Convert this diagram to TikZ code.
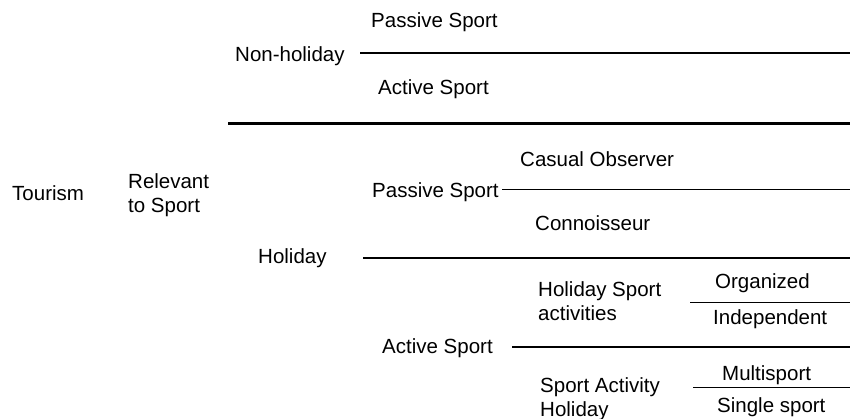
\documentclass[tikz,border=0pt]{standalone}
\usepackage{fontspec}
\setmainfont{Liberation Sans}
\begin{document}
\begin{tikzpicture}[x=1pt,y=-1pt,
  lbl/.style={anchor=base west,inner sep=0pt,font=\fontsize{20.5}{24}\selectfont,align=left},
  heavy/.style={line width=3pt},
  medium/.style={line width=2pt},
  light/.style={line width=1pt}]
\useasboundingbox[fill=white] (0,0) rectangle (850,419);
% texts
\node[lbl] (ps1) at (371,28) {Passive Sport};
\node[lbl] (nonhol) at (235,62) {Non-holiday};
\node[lbl] (as1) at (378,95) {Active Sport};
\node[lbl] (tour) at (12,201) {Tourism};
\node[lbl] (rel) at (128,213) {Relevant\\to Sport};
\node[lbl] (cas) at (520,167) {Casual Observer};
\node[lbl] (ps2) at (372,198) {Passive Sport};
\node[lbl] (con) at (535,231) {Connoisseur};
\node[lbl] (hol) at (258,264) {Holiday};
\node[lbl] (hsa) at (538,320) {Holiday Sport\\activities};
\node[lbl] (org) at (715,288) {Organized};
\node[lbl] (ind) at (713,324) {Independent};
\node[lbl] (as2) at (382,353) {Active Sport};
\node[lbl] (mul) at (722,380) {Multisport};
\node[lbl] (sah) at (540,416) {Sport Activity\\Holiday};
\node[lbl] (sin) at (717,412) {Single sport};
% line ends
\coordinate (nhS) at (360,53);  \coordinate (nhE) at (850,53);
\coordinate (sepS) at (228,124); \coordinate (sepE) at (850,124);
\coordinate (psS) at (502,190); \coordinate (psE) at (850,190);
\coordinate (hoS) at (363,258); \coordinate (hoE) at (850,258);
\coordinate (orS) at (690,302); \coordinate (orE) at (850,302);
\coordinate (asS) at (512,347); \coordinate (asE) at (850,347);
\coordinate (muS) at (693,387); \coordinate (muE) at (850,387);
% lines
\draw[medium] (nhS) -- (nhE);
\draw[heavy] (sepS) -- (sepE);
\draw[light] (psS) -- (psE);
\draw[line width=2.2pt] (hoS) -- (hoE);
\draw[light] (orS) -- (orE);
\draw[line width=1.3pt] (asS) -- (asE);
\draw[light] (muS) -- (muE);
\end{tikzpicture}
\end{document}
